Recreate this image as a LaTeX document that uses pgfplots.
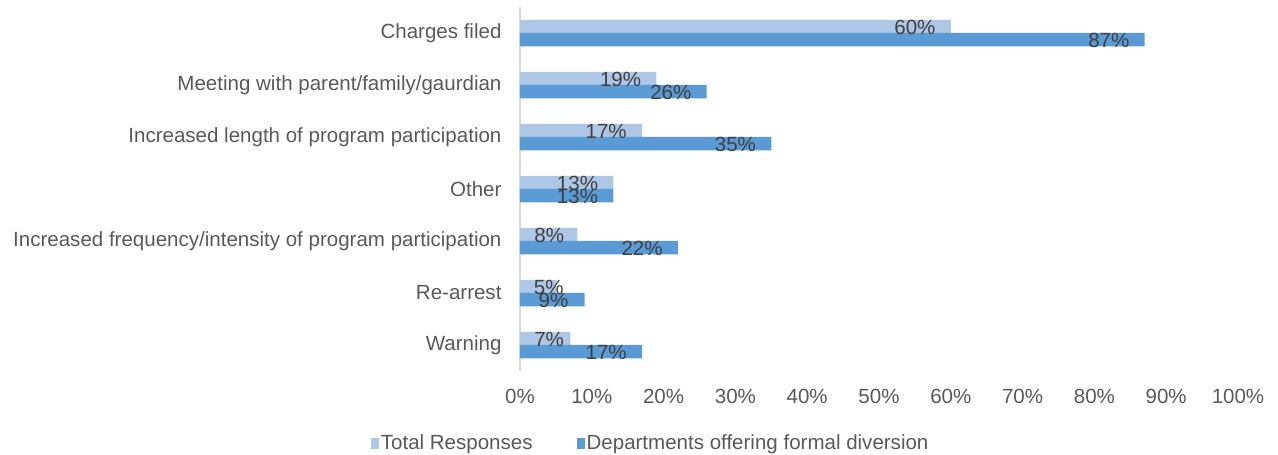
\documentclass[border=0pt]{standalone}
\usepackage{fontspec}
\setmainfont{Liberation Sans}
\usepackage{pgfplots}
\pgfplotsset{compat=1.18}
\definecolor{lightbar}{HTML}{AEC7E7}
\definecolor{darkbar}{HTML}{5B9BD5}
\definecolor{labtxt}{HTML}{404040}
\definecolor{axtxt}{HTML}{595959}
\definecolor{axline}{HTML}{D9D9D9}
\begin{document}
\begin{tikzpicture}
\useasboundingbox (-520bp,-84bp) rectangle (758bp,371bp);
\begin{axis}[
  at={(0,0)}, anchor=south west,
  scale only axis, width=718bp, height=364bp,
  xmin=0, xmax=100, ymin=-0.5, ymax=6.5,
  xbar, bar width=13.5bp,
  axis lines=left,
  axis line style={-},
  x axis line style={draw=none},
  y axis line style={draw=axline, line width=1.5bp},
  major tick length=0pt,
  /pgf/number format/assume math mode=true,
  xtick={0,10,...,100},
  xticklabels={0\%,10\%,20\%,30\%,40\%,50\%,60\%,70\%,80\%,90\%,100\%},
  ytick={0,...,6},
  yticklabels={Warning,Re-arrest,Increased frequency/intensity of program participation,Other,Increased length of program participation,Meeting with parent/family/gaurdian,Charges filed},
  tick label style={font=\fontsize{20.6}{24}\selectfont, text=axtxt},
  xticklabel style={yshift=-15bp},
  yticklabel style={xshift=-15bp},
  legend style={draw=none, at={(0.182,-0.198)}, anchor=center, legend columns=2,
    font=\fontsize{20.6}{24}\selectfont, text=axtxt,
    /tikz/every even column/.append style={column sep=42bp},
    legend cell align=left, inner sep=0pt},
  legend image code/.code={\fill[#1] (-3bp,-5.5bp) rectangle (5bp,5.5bp);},
  point meta=x,
  lab/.style={draw=none, fill=none, forget plot, nodes near coords={\llap{\pgfmathprintnumber{\pgfplotspointmeta}\%}},
    every node near coord/.append style={font=\fontsize{20.6}{24}\selectfont, text=labtxt, inner sep=0pt, anchor=west, yshift=-1bp, xshift=#1}},
]
% Total Responses
\addplot[fill=lightbar, draw=none, bar shift=6.5bp]
  coordinates {(7,0) (5,1) (8,2) (13,3) (17,4) (19,5) (60,6)};
\addlegendentry{Total Responses}
% Departments offering formal diversion
\addplot[fill=darkbar, draw=none, bar shift=-6.5bp]
  coordinates {(17,0) (9,1) (22,2) (13,3) (35,4) (26,5) (87,6)};
\addlegendentry{Departments offering formal diversion}
% data labels
\addplot[lab=-16bp, bar shift=6.5bp] coordinates {(13,3) (17,4) (19,5) (60,6)};
\addplot[lab=-14bp, bar shift=6.5bp] coordinates {(8,2)};
\addplot[lab=7bp, bar shift=6.5bp] coordinates {(5,1)};
\addplot[lab=-7bp, bar shift=6.5bp] coordinates {(7,0)};
\addplot[lab=-16bp, bar shift=-6.5bp] coordinates {(17,0) (13,3) (35,4) (26,5) (87,6)};
\addplot[lab=-17bp, bar shift=-6.5bp] coordinates {(9,1)};
\addplot[lab=-16bp, bar shift=-6.5bp] coordinates {(22,2)};
\end{axis}
\end{tikzpicture}
\end{document}
